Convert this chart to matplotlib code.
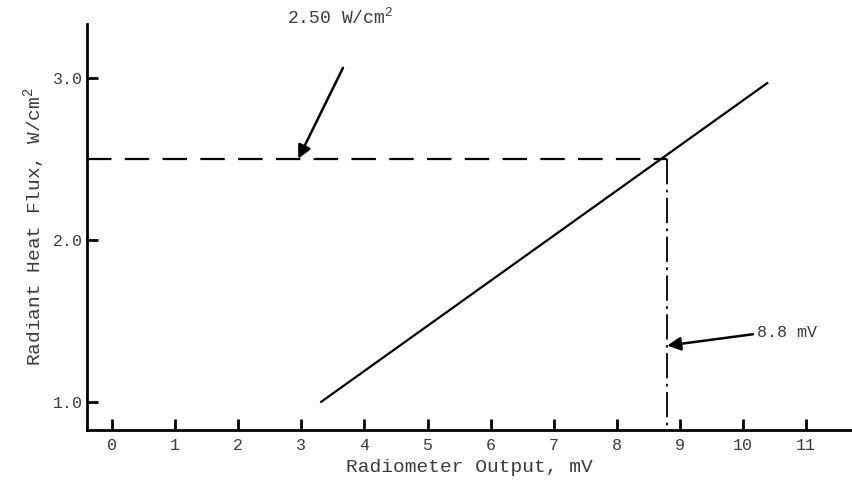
import numpy as np
import matplotlib
matplotlib.use('Agg')
import matplotlib.pyplot as plt

plt.rcParams['font.family'] = ['Liberation Mono', 'DejaVu Sans Mono']
plt.rcParams['mathtext.fontset'] = 'custom'
plt.rcParams['mathtext.rm'] = 'Liberation Mono'
plt.rcParams['mathtext.it'] = 'Liberation Mono'

# calibration line (mV -> W/cm2)
line_x = [3.3, 10.4]
line_y = [1.0, 2.97]

# read-off point
target_mv = 8.8
target_flux = 2.50

x_ticks = list(range(0, 12))
y_ticks = [1.0, 2.0, 3.0]
y_tick_labels = ['1.0', '2.0', '3.0']

text_col = '#3a3a3a'

fig = plt.figure(figsize=(8.52, 4.8), dpi=100)
ax = fig.add_axes([0.102, 0.104, 0.898, 0.846])

ax.plot(line_x, line_y, color='black', lw=1.6, solid_capstyle='butt')

# dashed horizontal from the axis to the line
ax.plot([-0.4, target_mv], [target_flux, target_flux], color='black', lw=1.6,
        dashes=(11, 6))
# dash-dot vertical down to the axis
ax.plot([target_mv, target_mv], [target_flux, 0.83], color='black', lw=1.3,
        dashes=(14, 3, 1.5, 3))

# arrows pointing at the read-off values
ax.annotate('', xy=(2.95, target_flux), xytext=(3.66, 3.06),
            arrowprops=dict(arrowstyle='-|>', lw=1.8, color='black',
                            mutation_scale=20, shrinkA=0, shrinkB=0))
ax.text(2.78, 3.37, '2.50 W/cm$^{2}$', fontsize=13, color=text_col,
        ha='left', va='center')

ax.annotate('', xy=(target_mv, 1.35), xytext=(10.16, 1.42),
            arrowprops=dict(arrowstyle='-|>', lw=1.8, color='black',
                            mutation_scale=20, shrinkA=0, shrinkB=0))
ax.text(10.22, 1.43, '8.8 mV', fontsize=12, color=text_col,
        ha='left', va='center')

ax.set_xlim(-0.4, 11.73)
ax.set_ylim(0.83, 3.33)
ax.set_xticks(x_ticks)
ax.set_xticklabels([str(v) for v in x_ticks], color=text_col, fontsize=12)
ax.set_yticks(y_ticks)
ax.set_yticklabels(y_tick_labels, color=text_col, fontsize=12)
ax.tick_params(axis='both', direction='in', length=8, width=2, color='black')
ax.tick_params(axis='x', pad=6)
ax.tick_params(axis='y', pad=3)

for side in ['top', 'right']:
    ax.spines[side].set_visible(False)
for side in ['left', 'bottom']:
    ax.spines[side].set_linewidth(2)

ax.set_xlabel('Radiometer Output, mV', fontsize=14, color=text_col, labelpad=4)
ax.set_ylabel('Radiant Heat Flux, W/cm$^2$', fontsize=14, color=text_col,
              labelpad=4)

fig.savefig('out.png', dpi=100)
